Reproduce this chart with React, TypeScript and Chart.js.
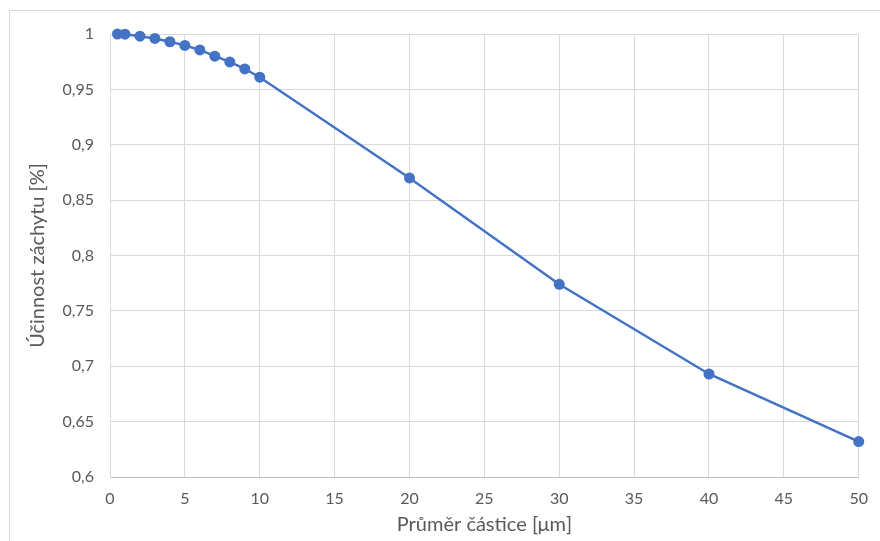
import React, { useEffect, useRef } from "react";
import { Chart, registerables } from "chart.js";

Chart.register(...registerables);

const diameters = [0.5, 1, 2, 3, 4, 5, 6, 7, 8, 9, 10, 20, 30, 40, 50];
const efficiency = [1.0, 0.9998, 0.998, 0.996, 0.993, 0.9897, 0.9856, 0.98, 0.9748, 0.9685, 0.961, 0.870, 0.774, 0.693, 0.632];
const xTitle = "Průměr částice [μm]";
const yTitle = "Účinnost záchytu [%]";

const FONT = "Lato, 'Open Sans', sans-serif";
const GREY_TEXT = "#595959";

export default function App() {
  const ref = useRef<HTMLCanvasElement>(null);
  useEffect(() => {
    document.body.style.margin = "0";
    const ctx = ref.current!.getContext("2d")!;
    const chart = new Chart(ctx, {
      type: "scatter",
      data: {
        datasets: [
          {
            data: diameters.map((x, i) => ({ x, y: efficiency[i] })),
            showLine: true,
            borderColor: "#4472C4",
            backgroundColor: "#4472C4",
            borderWidth: 2.5,
            pointRadius: 5.5,
            pointBorderWidth: 0,
            tension: 0,
            clip: false as any,
          },
        ],
      },
      options: {
        animation: false,
        responsive: false,
        devicePixelRatio: 1,
        layout: { padding: { left: 26, top: 34, right: 21, bottom: 4 } },
        plugins: { legend: { display: false }, tooltip: { enabled: false } },
        scales: {
          x: {
            type: "linear",
            min: 0,
            max: 50,
            ticks: {
              stepSize: 5,
              color: GREY_TEXT,
              font: { family: FONT, size: 16 },
              padding: 12,
              maxRotation: 0,
            },
            grid: { color: "#d9d9d9", lineWidth: 1, drawTicks: false, tickLength: 0 },
            border: { color: "#bfbfbf", width: 1 },
            title: {
              display: true,
              text: xTitle,
              color: GREY_TEXT,
              font: { family: FONT, size: 20 },
              padding: { top: 0, bottom: 0 },
            },
            afterFit: (s: any) => {
              s.height = 60;
            },
          },
          y: {
            type: "linear",
            min: 0.6,
            max: 1,
            ticks: {
              stepSize: 0.05,
              color: GREY_TEXT,
              font: { family: FONT, size: 16 },
              padding: 16,
              callback: (v: any) => String(Math.round(Number(v) * 100) / 100).replace(".", ","),
            },
            grid: { color: "#d9d9d9", lineWidth: 1, drawTicks: false, tickLength: 0 },
            border: { color: "#d9d9d9", width: 1 },
            title: {
              display: true,
              text: yTitle,
              color: GREY_TEXT,
              font: { family: FONT, size: 20 },
              padding: { top: 0, bottom: 0 },
            },
            afterFit: (s: any) => {
              s.width = 84;
            },
          },
        },
      },
    });
    return () => chart.destroy();
  }, []);
  return (
    <div style={{ position: "relative", width: 880, height: 541, background: "#fff" }}>
      <div
        style={{
          position: "absolute",
          left: 9,
          top: 10,
          width: 880,
          height: 541,
          borderLeft: "1.5px solid #d9d9d9",
          borderTop: "1.5px solid #d9d9d9",
          boxSizing: "border-box",
        }}
      />
      <canvas ref={ref} width={880} height={541} style={{ position: "absolute", left: 0, top: 0 }} />
    </div>
  );
}
